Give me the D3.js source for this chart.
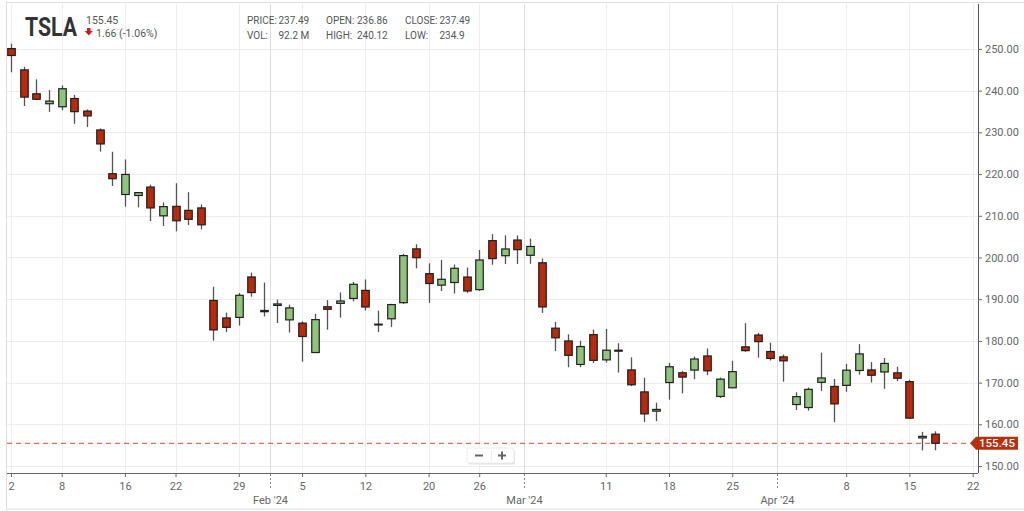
<!DOCTYPE html>
<html>
<head>
<meta charset="utf-8">
<script src="https://cdn.jsdelivr.net/npm/d3@7"></script>
<style>
  html, body { margin: 0; padding: 0; background: #fff; }
  svg { display: block; font-family: Roboto, "Noto Sans", sans-serif; }
</style>
</head>
<body>
<svg id="chart" width="1024" height="511"></svg>
<script>
// trading sessions shown on the axis (data ends at Apr 17)
const sessions = [
  "2024-01-02","2024-01-03","2024-01-04","2024-01-05","2024-01-08","2024-01-09","2024-01-10","2024-01-11","2024-01-12",
  "2024-01-16","2024-01-17","2024-01-18","2024-01-19","2024-01-22","2024-01-23","2024-01-24","2024-01-25","2024-01-26",
  "2024-01-29","2024-01-30","2024-01-31","2024-02-01","2024-02-02","2024-02-05","2024-02-06","2024-02-07","2024-02-08",
  "2024-02-09","2024-02-12","2024-02-13","2024-02-14","2024-02-15","2024-02-16","2024-02-20","2024-02-21","2024-02-22",
  "2024-02-23","2024-02-26","2024-02-27","2024-02-28","2024-02-29","2024-03-01","2024-03-04","2024-03-05","2024-03-06",
  "2024-03-07","2024-03-08","2024-03-11","2024-03-12","2024-03-13","2024-03-14","2024-03-15","2024-03-18","2024-03-19",
  "2024-03-20","2024-03-21","2024-03-22","2024-03-25","2024-03-26","2024-03-27","2024-03-28","2024-04-01","2024-04-02",
  "2024-04-03","2024-04-04","2024-04-05","2024-04-08","2024-04-09","2024-04-10","2024-04-11","2024-04-12","2024-04-15",
  "2024-04-16","2024-04-17","2024-04-18","2024-04-19","2024-04-22"
];

const openVals = [
  250.08,244.98,239.25,236.86,236.14,238.11,235.10,230.57,220.08,215.10,214.86,216.88,209.99,212.26,211.30,211.88,189.70,185.50,185.63,195.33,187.00,
  188.50,185.04,184.26,177.21,188.18,189.00,190.18,192.11,183.99,185.30,189.16,202.06,196.13,193.36,194.00,195.31,192.29,204.04,200.42,204.18,
  200.52,198.73,183.05,179.99,174.35,181.50,175.45,177.77,173.05,167.77,163.16,170.02,172.36,173.00,176.39,166.69,168.76,178.58,181.41,177.45,
  176.17,164.75,164.02,170.07,169.08,169.34,172.91,173.04,172.55,172.34,170.24,156.74,157.64
];
const highVals = [
  251.25,245.68,242.70,240.12,241.25,238.96,235.50,230.93,225.34,223.49,215.67,217.45,213.19,217.80,215.65,212.73,193.00,186.78,191.48,196.36,193.97,
  189.88,188.69,184.68,186.49,189.79,191.62,194.12,194.73,187.26,188.89,200.88,203.17,198.60,199.44,198.32,197.57,201.78,205.60,205.30,205.28,
  204.52,199.75,184.59,181.58,180.04,182.73,182.87,179.43,176.05,171.17,165.18,174.72,172.82,176.25,178.18,171.20,175.24,184.25,181.91,179.57,
  176.75,167.69,168.82,177.19,170.86,174.50,179.22,174.93,175.88,173.81,170.69,158.19,158.33
];
const lowVals = [
  244.41,236.32,237.73,234.90,235.30,232.04,231.29,225.37,217.15,212.18,212.01,208.74,207.56,206.27,207.75,206.77,180.06,182.10,183.67,190.61,185.85,
  184.28,182.00,175.01,177.11,182.68,185.58,189.48,187.28,182.11,183.35,188.86,197.40,189.13,191.95,191.36,191.50,192.00,198.26,198.44,198.45,
  198.50,186.72,177.57,173.70,173.70,174.70,174.80,172.41,169.15,160.51,160.76,165.90,167.42,170.82,171.80,166.30,168.73,177.38,176.00,175.30,
  170.21,163.43,163.28,168.01,160.51,167.79,171.92,170.01,168.51,170.36,161.38,153.75,153.78
];
const closeVals = [
  248.42,238.45,237.93,237.49,240.45,234.96,233.94,227.22,218.89,219.91,215.55,211.88,212.19,208.80,209.14,207.83,182.63,183.25,190.93,191.59,187.29,
  188.86,187.91,181.06,185.10,187.58,189.56,193.57,188.13,184.02,188.71,200.45,199.95,193.76,194.77,197.41,191.97,199.40,199.73,202.04,201.88,
  202.64,188.14,180.74,176.54,178.65,175.34,177.77,177.54,169.48,162.50,163.57,173.80,171.32,175.66,172.82,170.83,172.63,177.67,179.83,175.79,
  175.22,166.63,168.38,171.11,164.90,172.98,176.88,171.76,174.60,171.05,161.48,157.11,155.45
];

const tickDates  = ["2024-01-02","2024-01-08","2024-01-16","2024-01-22","2024-01-29","2024-02-05","2024-02-12","2024-02-20","2024-02-26",
                    "2024-03-11","2024-03-18","2024-03-25","2024-04-08","2024-04-15","2024-04-22"];
const tickLabels = ["2","8","16","22","29","5","12","20","26","11","18","25","8","15","22"];
const monthStarts = ["2024-02-01","2024-03-01","2024-04-01"];
const monthLabels = ["Feb '24","Mar '24","Apr '24"];
const priceTicks = [150,160,170,180,190,200,210,220,230,240,250];

const symbol = "TSLA";
const lastPrice = "155.45";
const change = "1.66 (-1.06%)";
const infoRows = [
  [["PRICE:", "237.49"], ["OPEN:", "236.86"], ["CLOSE:", "237.49"]],
  [["VOL:", "92.2 M"], ["HIGH:", "240.12"], ["LOW:", "234.9"]]
];

const candles = closeVals.map((c, i) => ({
  i, o: openVals[i], h: highVals[i], l: lowVals[i], c
}));

const svg = d3.select("#chart");
const plotL = 7, plotR = 978, plotT = 4, plotB = 473;

const x = d3.scaleLinear().domain([-0.32, 76.42]).range([plotL, plotR]);
const y = d3.scaleLinear().domain([148.33, 260.77]).range([plotB, plotT]);
const idx = d => sessions.indexOf(d);

// outer frame
svg.append("rect")
  .attr("x", 6.5).attr("y", 2.5).attr("width", 1030).attr("height", 506.5)
  .attr("fill", "#fff").attr("stroke", "#dedede");

// horizontal grid
svg.append("g").selectAll("line").data(priceTicks).enter().append("line")
  .attr("x1", plotL).attr("x2", plotR)
  .attr("y1", d => Math.round(y(d)) + 0.5).attr("y2", d => Math.round(y(d)) + 0.5)
  .attr("stroke", "#ececec");

// vertical grid
svg.append("g").selectAll("line").data(tickDates).enter().append("line")
  .attr("x1", d => Math.round(x(idx(d))) + 0.5).attr("x2", d => Math.round(x(idx(d))) + 0.5)
  .attr("y1", plotT).attr("y2", plotB)
  .attr("stroke", "#eeeeee");
svg.append("g").selectAll("line").data(monthStarts).enter().append("line")
  .attr("x1", d => Math.round(x(idx(d) - 0.5)) + 0.5).attr("x2", d => Math.round(x(idx(d) - 0.5)) + 0.5)
  .attr("y1", plotT).attr("y2", plotB)
  .attr("stroke", "#dcdcdc");

// header
svg.append("text").attr("x", 25).attr("y", 36)
  .attr("font-size", 25).attr("font-weight", "bold").attr("fill", "#333")
  .attr("textLength", 52).attr("lengthAdjust", "spacingAndGlyphs")
  .text(symbol);
svg.append("text").attr("x", 86).attr("y", 24)
  .attr("font-size", 10.5).attr("fill", "#555").text(lastPrice);
svg.append("path")
  .attr("d", "M87,28 h3.5 v3 h2.3 l-4,4.5 l-4,-4.5 h2.2 z")
  .attr("fill", "#e0141e");
svg.append("text").attr("x", 96).attr("y", 37)
  .attr("font-size", 10.5).attr("fill", "#555").text(change);

const colX = [247, 326, 405];
const valX = [278.5, 357, 439.5];
infoRows.forEach((row, r) => {
  row.forEach((pair, k) => {
    svg.append("text").attr("x", colX[k]).attr("y", 24 + r * 14.5)
      .attr("font-size", 10).attr("fill", "#555").text(pair[0]);
    svg.append("text").attr("x", valX[k]).attr("y", 24 + r * 14.5)
      .attr("font-size", 10).attr("fill", "#555").text(pair[1]);
  });
});

// last price dashed line
const lastY = y(closeVals[closeVals.length - 1]);
svg.append("line")
  .attr("x1", plotL).attr("x2", plotR - 8)
  .attr("y1", lastY).attr("y2", lastY)
  .attr("stroke", "#dc4a2c").attr("stroke-dasharray", "5,4");

// candles
const bodyW = 7.5;
const g = svg.append("g");
const cg = g.selectAll("g.candle").data(candles).enter().append("g").attr("class", "candle");
cg.append("line")
  .attr("x1", d => Math.round(x(d.i)) + 0.5).attr("x2", d => Math.round(x(d.i)) + 0.5)
  .attr("y1", d => y(d.h)).attr("y2", d => y(d.l))
  .attr("stroke", "#555").attr("stroke-width", 1.3);
cg.append("rect")
  .attr("x", d => Math.round(x(d.i)) + 0.5 - bodyW / 2)
  .attr("y", d => y(Math.max(d.o, d.c)))
  .attr("width", bodyW)
  .attr("height", d => Math.max(0.8, Math.abs(y(d.o) - y(d.c))))
  .attr("fill", d => d.c >= d.o ? "#8ec57a" : "#b9290b")
  .attr("stroke", "#1f1f1f").attr("stroke-width", 1.2);

// x axis
const xAxis = d3.axisBottom(x)
  .tickValues(tickDates.map(idx))
  .tickFormat((d, i) => tickLabels[i])
  .tickSize(4).tickPadding(5);
const xg = svg.append("g").attr("transform", `translate(0,${plotB})`).call(xAxis);
xg.select(".domain").attr("stroke", "#666").attr("d", `M${plotL},0.5H${plotR}`);
xg.selectAll(".tick line").attr("stroke", "#666");
xg.selectAll(".tick text").attr("fill", "#666").attr("font-size", 11).attr("font-family", "Roboto, sans-serif");

const mg = svg.append("g").attr("transform", `translate(0,${plotB})`);
monthStarts.forEach((d, k) => {
  const mx = Math.round(x(idx(d) - 0.5)) + 0.5;
  mg.append("line").attr("x1", mx).attr("x2", mx).attr("y1", 1).attr("y2", 15)
    .attr("stroke", "#888").attr("stroke-dasharray", "2,2");
  mg.append("text").attr("x", mx).attr("y", 31).attr("text-anchor", "middle")
    .attr("font-size", 11).attr("fill", "#666").text(monthLabels[k]);
});

// y axis
const yAxis = d3.axisRight(y).tickValues(priceTicks).tickFormat(d3.format(".2f"))
  .tickSize(4).tickPadding(3);
const yg = svg.append("g").attr("transform", `translate(${plotR},0)`).call(yAxis);
yg.select(".domain").attr("stroke", "#555").attr("d", `M0.5,${plotT}V${plotB}`);
yg.selectAll(".tick line").attr("stroke", "#666");
yg.selectAll(".tick text").attr("fill", "#666").attr("font-size", 11).attr("font-family", "Roboto, sans-serif");

// last price tag
const tagX = plotR - 8;
svg.append("path")
  .attr("d", `M${tagX},${lastY} L${tagX + 6},${lastY - 6.5} H1018 V${lastY + 6.5} H${tagX + 6} Z`)
  .attr("fill", "#b8300f");
svg.append("text").attr("x", 997).attr("y", lastY + 4)
  .attr("text-anchor", "middle").attr("font-size", 11.5).attr("font-weight", 500)
  .attr("fill", "#fff").text(lastPrice);

// zoom buttons
const zb = svg.append("g").attr("transform", "translate(467,448)");
zb.append("rect").attr("x", 1).attr("y", 1.5).attr("width", 47).attr("height", 15).attr("rx", 2)
  .attr("fill", "#e2e2e2");
zb.append("rect").attr("width", 47).attr("height", 15).attr("rx", 2)
  .attr("fill", "#fff").attr("stroke", "#ececec");
zb.append("line").attr("x1", 24.5).attr("x2", 24.5).attr("y1", 2).attr("y2", 13).attr("stroke", "#eee");
zb.append("path").attr("d", "M8,7.5 h8").attr("stroke", "#666").attr("stroke-width", 2);
zb.append("path").attr("d", "M31,7.5 h8 M35,3.5 v8").attr("stroke", "#666").attr("stroke-width", 2);
</script>
</body>
</html>
